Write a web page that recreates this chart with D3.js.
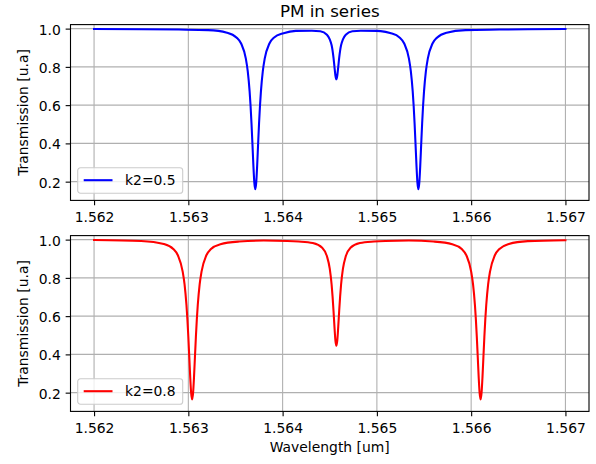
<!DOCTYPE html>
<html>
<head>
<meta charset="utf-8">
<script src="https://cdn.jsdelivr.net/npm/d3@7"></script>
<style>
  body { margin: 0; background: #fff; }
  svg { display: block; font-family: 'DejaVu Sans', sans-serif; }
</style>
</head>
<body>
<script>
const title = 'PM in series';
const xLabel = 'Wavelength [um]';
const yLabel = 'Transmission [u.a]';
const xTicks = [1.562, 1.563, 1.564, 1.565, 1.566, 1.567];
const yTicks = [0.2, 0.4, 0.6, 0.8, 1.0];

// k2 = 0.5 (blue)
const lambdaK05 = [
  1.562, 1.5625, 1.5629, 1.56321, 1.56341, 1.56351, 1.56356, 1.56361, 1.56363,
  1.56365, 1.56366, 1.56367, 1.56368, 1.56369, 1.5637, 1.56371, 1.56372,
  1.56373, 1.56374, 1.56375, 1.56376, 1.56377, 1.56379, 1.56381, 1.56386,
  1.56391, 1.56401, 1.56414, 1.56431, 1.5644, 1.56447, 1.5645, 1.56452,
  1.56453, 1.56454, 1.56455, 1.56456, 1.56457, 1.56458, 1.56459, 1.5646,
  1.56461, 1.56462, 1.56464, 1.56467, 1.56474, 1.56483, 1.565, 1.56504,
  1.56514, 1.56524, 1.56529, 1.56534, 1.56536, 1.56538, 1.56539, 1.5654,
  1.56541, 1.56542, 1.56543, 1.56544, 1.56545, 1.56546, 1.56547, 1.56548,
  1.56549, 1.5655, 1.56552, 1.56554, 1.56559, 1.56564, 1.56574, 1.56594,
  1.5663, 1.5666, 1.567,
];
const transK05 = [
  0.998, 0.997, 0.995, 0.992, 0.979, 0.954, 0.922, 0.843, 0.778,
  0.672, 0.597, 0.504, 0.396, 0.284, 0.195, 0.16, 0.195,
  0.284, 0.396, 0.504, 0.597, 0.672, 0.778, 0.843, 0.922,
  0.954, 0.976, 0.988, 0.989, 0.986, 0.968, 0.944, 0.913,
  0.885, 0.847, 0.8, 0.755, 0.735, 0.755, 0.8, 0.847,
  0.885, 0.913, 0.944, 0.968, 0.986, 0.989, 0.988, 0.987,
  0.977, 0.954, 0.922, 0.843, 0.778, 0.672, 0.597, 0.504,
  0.396, 0.284, 0.195, 0.16, 0.195, 0.284, 0.396, 0.504,
  0.597, 0.672, 0.778, 0.843, 0.922, 0.954, 0.979, 0.992,
  0.995, 0.997, 0.998,
];

// k2 = 0.8 (red)
const lambdaK08 = [
  1.562, 1.5625, 1.56274, 1.56284, 1.56289, 1.56294, 1.56296, 1.56298,
  1.56299, 1.563, 1.56301, 1.56302, 1.56303, 1.56304, 1.56305, 1.56306,
  1.56307, 1.56308, 1.56309, 1.5631, 1.56312, 1.56314, 1.56319, 1.56324,
  1.56334, 1.56354, 1.5638, 1.56405, 1.56417, 1.56432, 1.56442, 1.56447,
  1.5645, 1.56452, 1.56453, 1.56454, 1.56455, 1.56456, 1.56457, 1.56458,
  1.56459, 1.5646, 1.56461, 1.56462, 1.56464, 1.56467, 1.56472, 1.56482,
  1.56497, 1.56509, 1.56534, 1.5656, 1.5658, 1.5659, 1.56595, 1.566,
  1.56602, 1.56604, 1.56605, 1.56606, 1.56607, 1.56608, 1.56609, 1.5661,
  1.56611, 1.56612, 1.56613, 1.56614, 1.56615, 1.56616, 1.56618, 1.5662,
  1.56625, 1.5663, 1.5664, 1.5666, 1.567,
];
const transK08 = [
  0.998, 0.993, 0.977, 0.951, 0.917, 0.833, 0.766, 0.658,
  0.583, 0.491, 0.386, 0.28, 0.197, 0.165, 0.197, 0.28,
  0.386, 0.491, 0.583, 0.658, 0.766, 0.833, 0.917, 0.951,
  0.976, 0.99, 0.995, 0.993, 0.99, 0.982, 0.958, 0.913,
  0.848, 0.764, 0.702, 0.627, 0.544, 0.473, 0.445, 0.473,
  0.544, 0.627, 0.702, 0.764, 0.848, 0.913, 0.958, 0.982,
  0.99, 0.993, 0.995, 0.99, 0.976, 0.951, 0.917, 0.833,
  0.766, 0.658, 0.583, 0.491, 0.386, 0.28, 0.197, 0.165,
  0.197, 0.28, 0.386, 0.491, 0.583, 0.658, 0.766, 0.833,
  0.917, 0.951, 0.977, 0.992, 0.997,
];

const panels = [
  { label: 'k2=0.5', color: '#0000ff', lambda: lambdaK05, trans: transK05, top: 24.6 },
  { label: 'k2=0.8', color: '#ff0000', lambda: lambdaK08, trans: transK08, top: 235.6 },
];

const W = 596;
const H = 464;
const fontSize = 13.9;
const axLeft = 70.5;
const axWidth = 518.5;
const axHeight = 175.8;
const tickLen = 4.86;

const svg = d3.select('body').append('svg').attr('width', W).attr('height', H);

const x = d3.scaleLinear().domain([1.56175, 1.56725]).range([0, axWidth]);
const y = d3.scaleLinear().domain([0.102, 1.021]).range([axHeight, 0]);

// title
svg
  .append('text')
  .attr('x', axLeft + axWidth / 2)
  .attr('y', 17)
  .attr('text-anchor', 'middle')
  .style('font-size', '16.7px')
  .text(title);

panels.forEach((p, i) => {
  const g = svg.append('g').attr('transform', `translate(${axLeft},${p.top})`);

  // grid
  g.append('g')
    .selectAll('line')
    .data(xTicks)
    .join('line')
    .attr('x1', (d) => x(d))
    .attr('x2', (d) => x(d))
    .attr('y1', 0)
    .attr('y2', axHeight)
    .attr('stroke', '#b0b0b0')
    .attr('stroke-width', 1.1);
  g.append('g')
    .selectAll('line')
    .data(yTicks)
    .join('line')
    .attr('x1', 0)
    .attr('x2', axWidth)
    .attr('y1', (d) => y(d))
    .attr('y2', (d) => y(d))
    .attr('stroke', '#b0b0b0')
    .attr('stroke-width', 1.1);

  // curve
  const pts = p.lambda.map((l, k) => [l, p.trans[k]]);
  g.append('path')
    .datum(pts)
    .attr('fill', 'none')
    .attr('stroke', p.color)
    .attr('stroke-width', 2.08)
    .attr('stroke-linejoin', 'round')
    .attr('stroke-linecap', 'square')
    .attr(
      'd',
      d3
        .line()
        .x((d) => x(d[0]))
        .y((d) => y(d[1]))
        .curve(d3.curveMonotoneX)
    );

  // axes
  const xAxis = g
    .append('g')
    .attr('transform', `translate(0,${axHeight})`)
    .call(
      d3
        .axisBottom(x)
        .tickValues(xTicks)
        .tickFormat(d3.format('.3f'))
        .tickSize(tickLen)
        .tickPadding(4.86)
    );
  xAxis.selectAll('text').attr('y', 22).attr('dy', 0);

  const yAxis = g
    .append('g')
    .call(
      d3
        .axisLeft(y)
        .tickValues(yTicks)
        .tickFormat(d3.format('.1f'))
        .tickSize(tickLen)
        .tickPadding(4.86)
    );
  yAxis.selectAll('text').attr('dy', '0.4em');

  [xAxis, yAxis].forEach((a) => {
    a.select('.domain').remove();
    a.attr('font-family', null).attr('font-size', null);
    a.selectAll('text').style('font-size', fontSize + 'px').attr('fill', '#000');
    a.selectAll('line').attr('stroke', '#000').attr('stroke-width', 1.1);
  });

  // spines
  g.append('rect')
    .attr('width', axWidth)
    .attr('height', axHeight)
    .attr('fill', 'none')
    .attr('stroke', '#000')
    .attr('stroke-width', 1.1);

  // y label
  g.append('text')
    .attr('transform', `translate(${27.5 - axLeft},${axHeight / 2}) rotate(-90)`)
    .attr('text-anchor', 'middle')
    .style('font-size', fontSize + 'px')
    .text(yLabel);

  // legend
  const lg = g.append('g').attr('transform', `translate(7.2,${axHeight - 7.1 - 25.6})`);
  lg.append('rect')
    .attr('width', 105)
    .attr('height', 25.6)
    .attr('rx', 2.8)
    .attr('fill', '#fff')
    .attr('fill-opacity', 0.8)
    .attr('stroke', '#cccccc')
    .attr('stroke-width', 1.1);
  lg.append('line')
    .attr('x1', 6)
    .attr('x2', 34.8)
    .attr('y1', 12.5)
    .attr('y2', 12.5)
    .attr('stroke', p.color)
    .attr('stroke-width', 2.08);
  lg.append('text')
    .attr('x', 47.3)
    .attr('y', 17.6)
    .style('font-size', fontSize + 'px')
    .text(p.label);

  if (i === panels.length - 1) {
    g.append('text')
      .attr('x', axWidth / 2)
      .attr('y', 452.3 - p.top)
      .attr('text-anchor', 'middle')
      .style('font-size', fontSize + 'px')
      .text(xLabel);
  }
});
</script>
</body>
</html>
